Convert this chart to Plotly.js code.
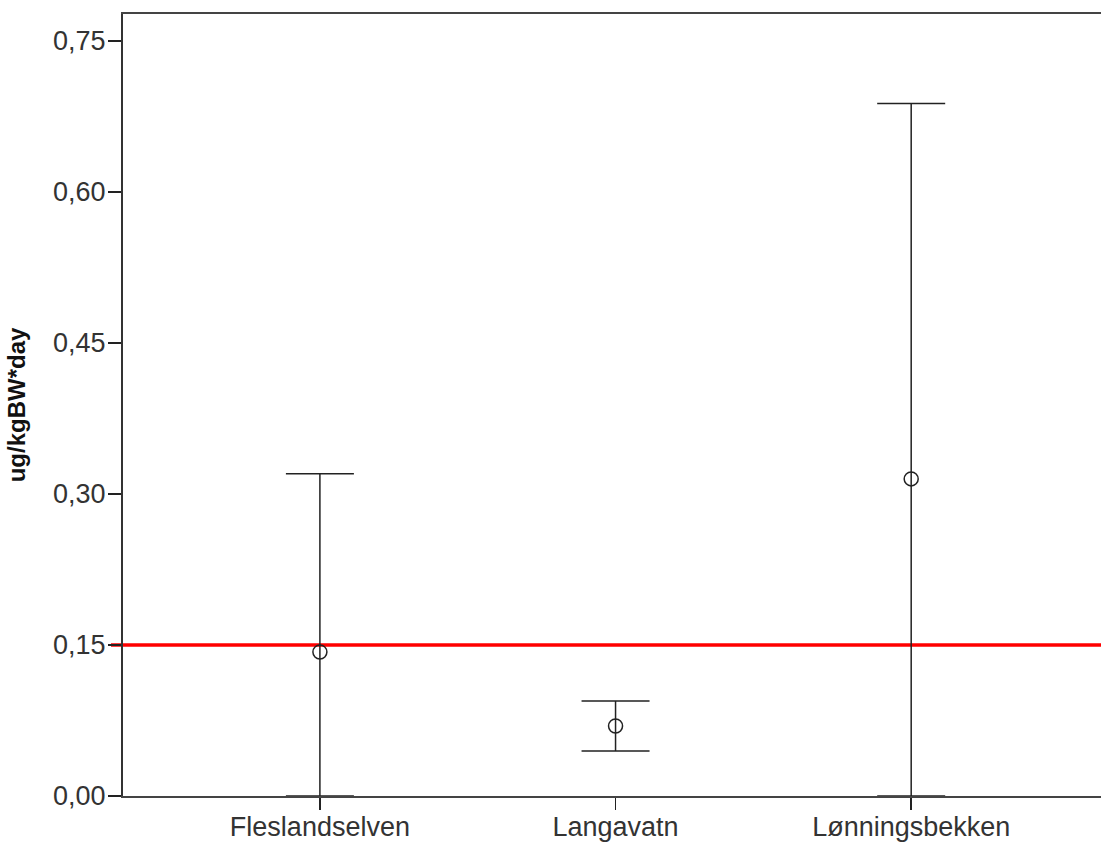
<!DOCTYPE html>
<html>
<head>
<meta charset="utf-8">
<script src="https://cdn.plot.ly/plotly-3.0.1.min.js"></script>
<style>html,body{margin:0;padding:0;background:#fff;overflow:hidden}#chart{width:1101px;height:844px}</style>
</head>
<body>
<div id="chart"></div>
<script>
var categories = ["Fleslandselven", "Langavatn", "Lønningsbekken"];
var meanValues = [0.143, 0.0695, 0.315];
var upperValues = [0.320, 0.0944, 0.688];
var lowerValues = [0.0, 0.0447, 0.0];
var yTickVals = [0, 0.15, 0.30, 0.45, 0.60, 0.75];
var yTickText = ["0,00", "0,15", "0,30", "0,45", "0,60", "0,75"];
var referenceLevel = 0.15;
var yTitle = "ug/kgBW*day";

var xPos = categories.map(function(c, i){ return i; });
var errPlus = meanValues.map(function(m, i){ return upperValues[i] - m; });
var errMinus = meanValues.map(function(m, i){ return m - lowerValues[i]; });

var trace = {
  type: "scatter",
  mode: "markers",
  x: xPos,
  y: meanValues,
  cliponaxis: false,
  marker: {symbol: "circle-open", size: 14, color: "#222", line: {width: 1.5, color: "#222"}},
  error_y: {
    type: "data", symmetric: false,
    array: errPlus, arrayminus: errMinus,
    color: "#222", thickness: 1.5, width: 34
  },
  hoverinfo: "skip",
  showlegend: false
};

var layout = {
  width: 1101, height: 844,
  margin: {l: 123, r: 0, t: 14, b: 48, pad: 0},
  paper_bgcolor: "#fff", plot_bgcolor: "#fff",
  font: {family: "Arial, 'Liberation Sans', sans-serif", color: "#333"},
  xaxis: {
    range: [-0.666, 2.642],
    tickvals: xPos, ticktext: categories,
    ticks: "outside", ticklen: 12, tickwidth: 1.5, tickcolor: "#222",
    ticklabelstandoff: -6,
    showline: true, linecolor: "#444", linewidth: 2, mirror: true,
    showgrid: false, zeroline: false, fixedrange: true,
    tickfont: {size: 27, color: "#333"}
  },
  yaxis: {
    range: [0, 0.7768],
    tickvals: yTickVals, ticktext: yTickText,
    ticks: "outside", ticklen: 13, tickwidth: 1.5, tickcolor: "#222",
    ticklabelstandoff: -3,
    showline: true, linecolor: "#333", linewidth: 2,
    showgrid: false, zeroline: false, fixedrange: true,
    tickfont: {size: 27, color: "#333"},
    title: {text: yTitle, font: {size: 24, color: "#111", family: "Arial, 'Liberation Sans', sans-serif", weight: "bold"}, standoff: 21}
  },
  shapes: [{
    type: "line", xref: "paper", yref: "y",
    x0: -0.0123, x1: 1, y0: referenceLevel, y1: referenceLevel,
    line: {color: "#ff0000", width: 3.5}, layer: "below"
  }]
};

Plotly.newPlot("chart", [trace], layout, {displayModeBar: false, staticPlot: true});
</script>
</body>
</html>
